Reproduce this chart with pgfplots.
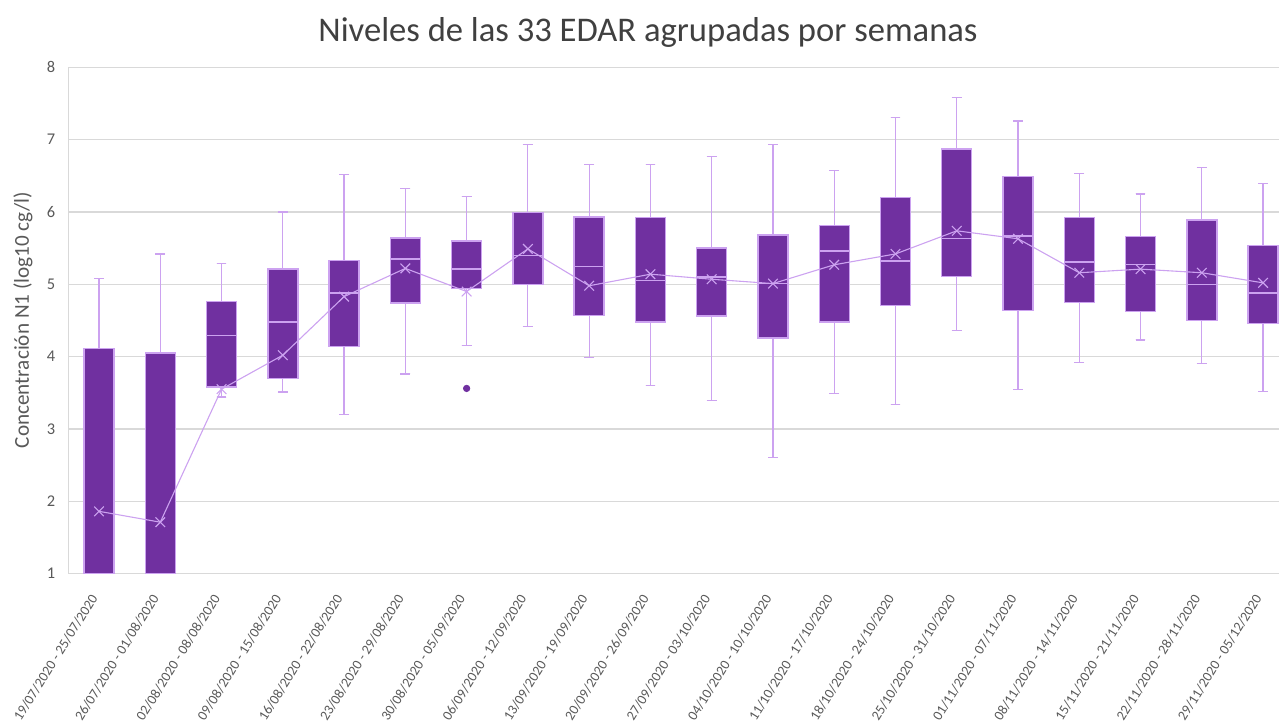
\documentclass[border=0pt]{standalone}
\usepackage{pgfplots}
\usepackage{pgfplotstable}
\pgfplotsset{compat=1.18}
\usepgfplotslibrary{statistics}
\usepackage{fontspec}
\setmainfont{Carlito}
\definecolor{pur}{RGB}{112,48,160}
\definecolor{lav}{RGB}{204,162,240}
\definecolor{gridc}{RGB}{217,217,217}
\definecolor{txt}{RGB}{89,89,89}
\definecolor{ttl}{RGB}{64,64,64}

% mean per week
\pgfplotstableread{
idx mean
0   1.86
1   1.71
2   3.55
3   4.02
4   4.83
5   5.22
6   4.90
7   5.49
8   4.98
9   5.14
10  5.07
11  5.01
12  5.27
13  5.42
14  5.74
15  5.63
16  5.16
17  5.21
18  5.16
19  5.02
}\meandata

% draw position, lower whisker, lower quartile, median, upper quartile, upper whisker
\newcommand{\bx}[6]{%
  \addplot[boxplot prepared={draw position=#1, lower whisker=#2, lower quartile=#3,
      median=#4, upper quartile=#5, upper whisker=#6},
    draw=lav, fill=pur, line width=0.7pt] coordinates {};}

\begin{document}
\begin{tikzpicture}
\useasboundingbox (0,0) rectangle (639.5pt,360pt);
\clip (0,0) rectangle (639.5pt,360pt);
\begin{axis}[
  at={(34.2pt,73.25pt)}, anchor=south west,
  scale only axis, width=605.3pt, height=253.05pt,
  xmin=-0.5, xmax=19.26, ymin=1, ymax=8,
  ytick={1,2,3,4,5,6,7,8},
  xtick={0,...,19},
  xticklabels={{19/07/2020 - 25/07/2020},{26/07/2020 - 01/08/2020},{02/08/2020 - 08/08/2020},{09/08/2020 - 15/08/2020},{16/08/2020 - 22/08/2020},{23/08/2020 - 29/08/2020},{30/08/2020 - 05/09/2020},{06/09/2020 - 12/09/2020},{13/09/2020 - 19/09/2020},{20/09/2020 - 26/09/2020},{27/09/2020 - 03/10/2020},{04/10/2020 - 10/10/2020},{11/10/2020 - 17/10/2020},{18/10/2020 - 24/10/2020},{25/10/2020 - 31/10/2020},{01/11/2020 - 07/11/2020},{08/11/2020 - 14/11/2020},{15/11/2020 - 21/11/2020},{22/11/2020 - 28/11/2020},{29/11/2020 - 05/12/2020}},
  ymajorgrids, grid style={gridc, line width=0.6pt},
  axis x line*=bottom, axis y line*=left,
  axis line style={gridc, line width=0.6pt},
  major tick length=0pt,
  /pgf/number format/assume math mode=true,
  yticklabel style={font=\fontsize{8.2pt}{9.5pt}\selectfont, text=txt, inner sep=0pt, xshift=-6.4pt},
  xticklabel style={font=\fontsize{7pt}{8pt}\selectfont, text=txt, inner sep=0pt, xshift=-2.3pt, yshift=-11pt, rotate=58, anchor=east},
  boxplot/draw direction=y,
  boxplot/box extend=0.49, boxplot/whisker extend=0.16,
  boxplot/every whisker/.style={draw=lav, line width=0.6pt},
  boxplot/every median/.style={draw=lav, line width=0.7pt},
  clip=true,
]
\bx{0}{1.00}{1.00}{1.00}{4.11}{5.08}
\bx{1}{1.00}{1.00}{1.00}{4.05}{5.42}
\bx{2}{3.44}{3.58}{4.29}{4.76}{5.29}
\bx{3}{3.51}{3.70}{4.48}{5.21}{6.00}
\bx{4}{3.20}{4.14}{4.88}{5.33}{6.52}
\bx{5}{3.76}{4.74}{5.35}{5.64}{6.33}
\bx{6}{4.15}{4.94}{5.21}{5.60}{6.21}
\bx{7}{4.42}{5.00}{5.40}{5.99}{6.93}
\bx{8}{3.99}{4.57}{5.25}{5.93}{6.66}
\bx{9}{3.60}{4.48}{5.05}{5.92}{6.66}
\bx{10}{3.39}{4.56}{5.10}{5.50}{6.77}
\bx{11}{2.61}{4.26}{5.01}{5.68}{6.93}
\bx{12}{3.49}{4.48}{5.46}{5.81}{6.57}
\bx{13}{3.34}{4.71}{5.32}{6.20}{7.31}
\bx{14}{4.36}{5.11}{5.63}{6.87}{7.58}
\bx{15}{3.54}{4.64}{5.67}{6.49}{7.26}
\bx{16}{3.92}{4.75}{5.31}{5.92}{6.53}
\bx{17}{4.23}{4.62}{5.27}{5.66}{6.25}
\bx{18}{3.90}{4.50}{5.00}{5.89}{6.62}
\bx{19}{3.52}{4.46}{4.88}{5.54}{6.39}
\addplot[lav, line width=0.55pt, mark=x, mark size=3.4pt, mark options={line width=0.55pt}]
  table[x=idx, y=mean] {\meandata};
\addplot[only marks, mark=*, mark size=1.6pt, pur] coordinates {(6,3.56)};
\end{axis}
\node[font=\fontsize{17.3pt}{20pt}\selectfont, text=ttl] at (324pt,344pt) {Niveles de las 33 EDAR agrupadas por semanas};
\node[rotate=90, font=\fontsize{10.6pt}{12pt}\selectfont, text=txt] at (11.5pt,200pt) {Concentración N1 (log10 cg/l)};
\end{tikzpicture}
\end{document}
